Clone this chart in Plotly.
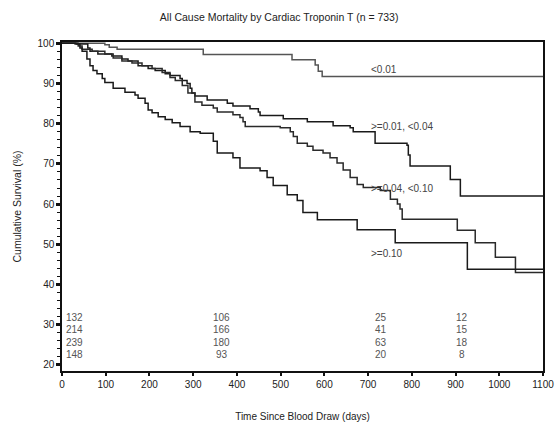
import plotly.graph_objects as go

# Kaplan-Meier step data: time (days) and cumulative survival (%) after each step
t_lt001 = [0, 98, 108, 126, 323, 526, 579, 586, 595, 1100]
s_lt001 = [100, 99.6, 99.0, 98.5, 97.2, 95.9, 94.6, 93.0, 91.7, 91.7]

t_001_004 = [0, 34, 59, 64, 82, 114, 137, 151, 174, 197, 213, 236, 247, 270, 275, 286,
             293, 297, 304, 332, 378, 391, 430, 449, 453, 506, 561, 620, 659, 666, 716,
             789, 792, 796, 888, 911, 1100]
s_001_004 = [100, 99.8, 98.8, 98.0, 97.3, 96.8, 96.1, 95.6, 94.4, 93.7, 93.2, 92.4, 92.0,
             91.2, 90.7, 90.0, 88.8, 87.6, 86.9, 85.9, 85.1, 84.4, 83.7, 82.9, 82.0, 81.2,
             80.5, 79.5, 79.0, 78.0, 75.1, 74.6, 72.2, 69.5, 66.1, 62.0, 62.0]

t_004_010 = [0, 37, 46, 69, 98, 117, 137, 160, 183, 206, 229, 247, 259, 275, 288, 304, 320,
             346, 355, 391, 407, 414, 419, 499, 522, 529, 538, 561, 574, 597, 613, 629,
             643, 659, 675, 689, 728, 751, 767, 773, 778, 904, 945, 991, 1037, 1100]
s_004_010 = [100, 99.3, 98.5, 98.0, 97.3, 96.3, 95.6, 95.1, 94.4, 93.7, 92.7, 91.5, 90.7,
             89.5, 87.6, 85.4, 84.6, 83.9, 82.9, 82.2, 81.5, 80.5, 79.3, 79.0, 78.0, 76.8,
             75.1, 74.4, 73.4, 72.7, 71.5, 70.2, 68.5, 66.6, 64.9, 64.1, 63.4, 61.2, 60.0,
             58.8, 56.2, 53.5, 50.4, 46.8, 43.0, 43.0]

t_ge010 = [0, 30, 41, 46, 57, 64, 71, 80, 92, 98, 117, 144, 167, 174, 190, 197, 206, 220,
           236, 252, 270, 293, 316, 346, 355, 391, 407, 453, 469, 483, 515, 538, 551, 584,
           675, 762, 927, 1100]
s_ge010 = [100, 99.8, 98.8, 98.0, 96.1, 94.4, 93.2, 92.4, 91.2, 90.2, 88.8, 87.8, 87.1,
           86.3, 85.1, 83.4, 82.7, 81.7, 81.0, 80.2, 79.3, 78.0, 77.6, 75.6, 72.7, 71.5,
           69.0, 68.3, 66.6, 64.6, 62.3, 60.9, 57.9, 56.1, 53.6, 50.4, 43.8, 43.8]

groups = ["<0.01", ">=0.01, <0.04", ">=0.04, <0.10", ">=0.10"]
label_y = [93.4, 79.3, 64.0, 47.8]

# Numbers at risk per group at selected times
risk_times = [0, 365, 730, 915]
risk_counts = [
    [132, 106, 25, 12],
    [214, 166, 41, 15],
    [239, 180, 63, 18],
    [148, 93, 20, 8],
]
risk_rows_y = [31.8, 28.7, 25.7, 22.6]

x_ticks = list(range(0, 1101, 100))
y_ticks = list(range(20, 101, 10))

FONT = "Liberation Sans, Arial, sans-serif"

fig = go.Figure()
series = [(t_lt001, s_lt001, "#555555"),
          (t_001_004, s_001_004, "#1a1a1a"),
          (t_004_010, s_004_010, "#2a2a2a"),
          (t_ge010, s_ge010, "#1a1a1a")]
for (t, s, c), name in zip(series, groups):
    fig.add_trace(go.Scatter(x=t, y=s, mode="lines", line=dict(shape="hv", color=c, width=1.5),
                             name=name, showlegend=False, hoverinfo="skip"))

annotations = []
for name, ly in zip(groups, label_y):
    annotations.append(dict(x=702, y=ly, xref="x", yref="y", text=name, showarrow=False,
                            xanchor="left", yanchor="middle",
                            font=dict(family=FONT, size=10, color="#444444")))
for row, ry in zip(risk_counts, risk_rows_y):
    for j, (rt, n) in enumerate(zip(risk_times, row)):
        annotations.append(dict(x=rt + (5 if j == 0 else 0), y=ry, xref="x", yref="y",
                                text=str(n), showarrow=False,
                                xanchor="left" if j == 0 else "center", yanchor="middle",
                                font=dict(family=FONT, size=10, color="#555555")))

fig.update_layout(
    width=555, height=425,
    margin=dict(l=62, r=12, t=42, b=54, autoexpand=False),
    paper_bgcolor="white", plot_bgcolor="white",
    title=dict(text="All Cause Mortality by Cardiac Troponin T (n = 733)",
               x=0.503, xanchor="center", y=0.96, yanchor="middle",
               font=dict(family=FONT, size=10.5, color="#222222")),
    font=dict(family=FONT, size=10, color="#222222"),
    annotations=annotations,
)
fig.update_xaxes(
    range=[0, 1100], tickvals=x_ticks, ticks="outside", ticklen=3, tickwidth=2,
    tickcolor="#111111", showgrid=False, zeroline=False, automargin=False,
    showline=True, linecolor="#111111", linewidth=1.5, mirror=True,
    title=dict(text="Time Since Blood Draw (days)", standoff=24,
               font=dict(family=FONT, size=10, color="#222222")),
    tickfont=dict(family=FONT, size=10, color="#222222"),
)
fig.update_yaxes(
    range=[18.5, 100.3], tickvals=y_ticks, ticks="outside", ticklen=4, tickwidth=2.5,
    tickcolor="#111111", showgrid=False, zeroline=False, automargin=False,
    showline=True, linecolor="#111111", linewidth=1.5, mirror=True,
    minor=dict(dtick=2, ticks="outside", ticklen=3, tickwidth=1, tickcolor="#111111"),
    title=dict(text="Cumulative Survival (%)", standoff=14,
               font=dict(family=FONT, size=10.5, color="#222222")),
    tickfont=dict(family=FONT, size=10, color="#222222"),
)

fig.write_html("out.html")
